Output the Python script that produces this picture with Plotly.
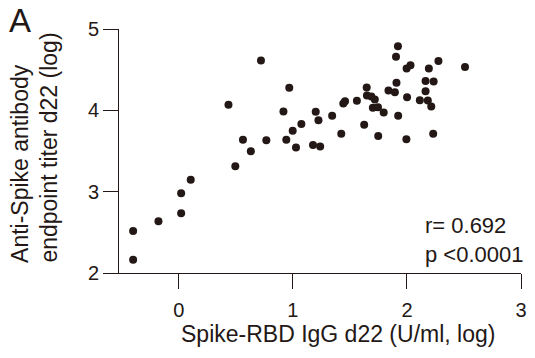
import plotly.graph_objects as go

# Spike-RBD IgG d22 (U/ml, log)
x_vals = [-0.401, -0.401, -0.179, 0.020, 0.020, 0.104, 0.495, 0.435, 0.720, 0.562,
          0.631, 0.767, 0.942, 1.027, 0.998, 0.968, 0.917, 1.074, 1.176, 1.239,
          1.200, 1.224, 1.344, 1.424, 1.442, 1.457, 1.561, 1.625, 1.647, 1.649,
          1.688, 1.718, 1.701, 1.746, 1.796, 1.748, 1.838, 1.894, 1.908, 1.923,
          1.904, 1.921, 2.001, 1.995, 1.997, 2.031, 2.113, 2.163, 2.163, 2.183,
          2.213, 2.192, 2.234, 2.276, 2.230, 2.509]
# Anti-Spike antibody endpoint titer d22 (log)
y_vals = [2.164, 2.516, 2.635, 2.734, 2.980, 3.147, 3.313, 4.070, 4.612, 3.639,
          3.498, 3.633, 3.639, 3.543, 3.748, 4.277, 3.986, 3.833, 3.574, 3.555,
          3.982, 3.877, 3.932, 3.711, 4.083, 4.111, 4.117, 3.824, 4.280, 4.183,
          4.169, 4.132, 4.033, 4.039, 3.974, 3.685, 4.243, 4.222, 4.339, 3.932,
          4.659, 4.788, 4.160, 3.645, 4.514, 4.553, 4.123, 4.234, 4.362, 4.122,
          4.048, 4.514, 4.356, 4.608, 3.713, 4.534]

x_ticks = [0, 1, 2, 3]
y_ticks = [2, 3, 4, 5]
x_title = "Spike-RBD IgG d22 (U/ml, log)"
y_title_lines = ["Anti-Spike antibody", "endpoint titer d22 (log)"]
stats_text = "r= 0.692<br>p <0.0001"
panel_label = "A"

INK = "#231815"
FONT = "Liberation Sans, Arial, Helvetica, sans-serif"

fig = go.Figure()
fig.add_trace(go.Scatter(
    x=x_vals, y=y_vals, mode="markers",
    marker=dict(size=8, color=INK, line=dict(width=0)),
    cliponaxis=False, showlegend=False,
))

axis_common = dict(
    showline=True, linecolor=INK, linewidth=1,
    ticks="outside", ticklen=15, tickwidth=1, tickcolor=INK,
    showgrid=False, zeroline=False,
    tickfont=dict(family=FONT, size=20, color=INK),
)

annotations = [
    dict(text=x_title, xref="paper", yref="paper", x=0.545, y=-0.249,
         xanchor="center", yanchor="middle", showarrow=False,
         font=dict(family=FONT, size=23, color=INK)),
    dict(text=stats_text, xref="paper", yref="paper", x=0.757, y=0.254,
         xanchor="left", yanchor="top", showarrow=False, align="left",
         font=dict(family=FONT, size=22, color=INK)),
    dict(text=panel_label, xref="paper", yref="paper", x=-0.278, y=1.119,
         xanchor="left", yanchor="top", showarrow=False,
         font=dict(family=FONT, size=33, color=INK)),
]
for line, xp in zip(y_title_lines, [-0.245, -0.175]):
    annotations.append(dict(
        text=line, xref="paper", yref="paper", x=xp, y=0.033,
        xanchor="center", yanchor="bottom", showarrow=False,
        textangle=-90, font=dict(family=FONT, size=23, color=INK)))

fig.update_layout(
    width=535, height=358,
    margin=dict(l=119, r=8, t=29, b=85),
    paper_bgcolor="white", plot_bgcolor="white",
    font=dict(family=FONT, color=INK),
    xaxis=dict(
        range=[-0.525, 3.0], tickvals=x_ticks, ticktext=[str(v) for v in x_ticks],
        ticklabelstandoff=4,
        **axis_common,
    ),
    yaxis=dict(
        range=[2, 5], tickvals=y_ticks, ticktext=[str(v) for v in y_ticks],
        **axis_common,
    ),
    annotations=annotations,
)

fig.write_html("out.html")
